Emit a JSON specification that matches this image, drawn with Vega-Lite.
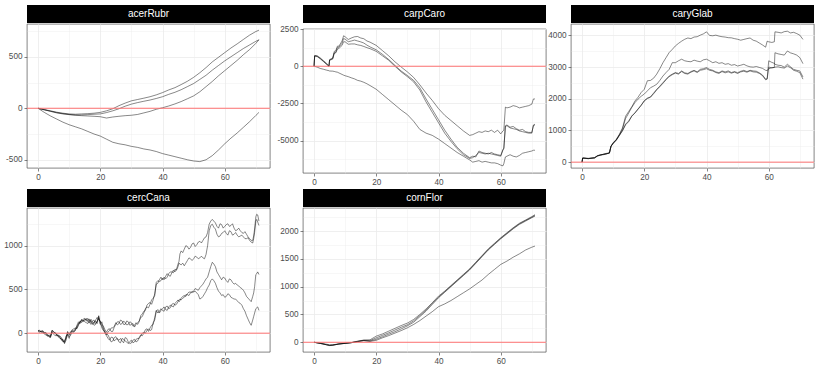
{
  "$schema": "https://vega.github.io/schema/vega-lite/v6.json",
  "padding": {"left": 3, "top": 5, "right": 2, "bottom": 2},
  "background": "white",
  "config": {
    "view": {"stroke": "#333333", "strokeWidth": 0.6},
    "axis": {"domain": false, "labelFont": "Liberation Sans", "labelFontSize": 8.2, "labelColor": "#4d4d4d", "tickColor": "#333333", "tickSize": 3, "tickWidth": 0.6, "labelPadding": 2, "gridColor": "#ebebeb", "labelOverlap": false, "tickCount": 50, "minExtent": 0}
  },
  "datasets": {
    "acerRubr": [
      {"x":0,"a":0,"b":0,"c":0,"d":0},{"x":2,"a":-12,"b":-15,"c":-15,"d":-40},{"x":4,"a":-25,"b":-28,"c":-30,"d":-75},{"x":6,"a":-38,"b":-42,"c":-45,"d":-105},{"x":8,"a":-48,"b":-52,"c":-55,"d":-135},{"x":10,"a":-55,"b":-60,"c":-62,"d":-160},{"x":12,"a":-58,"b":-65,"c":-68,"d":-180},{"x":14,"a":-55,"b":-65,"c":-72,"d":-200},{"x":16,"a":-52,"b":-62,"c":-75,"d":-225},{"x":18,"a":-48,"b":-58,"c":-78,"d":-250},{"x":20,"a":-40,"b":-55,"c":-82,"d":-270},{"x":22,"a":-25,"b":-42,"c":-95,"d":-300},{"x":24,"a":-5,"b":-25,"c":-85,"d":-330},{"x":26,"a":25,"b":-5,"c":-78,"d":-345},{"x":28,"a":50,"b":20,"c":-72,"d":-355},{"x":30,"a":72,"b":40,"c":-68,"d":-370},{"x":32,"a":85,"b":55,"c":-60,"d":-380},{"x":34,"a":98,"b":68,"c":-45,"d":-395},{"x":36,"a":112,"b":80,"c":-30,"d":-405},{"x":38,"a":130,"b":95,"c":-10,"d":-420},{"x":40,"a":152,"b":112,"c":5,"d":-440},{"x":42,"a":178,"b":135,"c":22,"d":-455},{"x":44,"a":200,"b":155,"c":42,"d":-470},{"x":46,"a":230,"b":180,"c":65,"d":-485},{"x":48,"a":262,"b":210,"c":92,"d":-500},{"x":50,"a":300,"b":240,"c":120,"d":-512},{"x":52,"a":345,"b":280,"c":160,"d":-518},{"x":54,"a":395,"b":320,"c":210,"d":-500},{"x":56,"a":450,"b":370,"c":260,"d":-460},{"x":58,"a":495,"b":415,"c":315,"d":-405},{"x":60,"a":540,"b":460,"c":365,"d":-345},{"x":62,"a":585,"b":500,"c":415,"d":-290},{"x":64,"a":625,"b":540,"c":465,"d":-240},{"x":66,"a":668,"b":580,"c":520,"d":-185},{"x":68,"a":710,"b":615,"c":570,"d":-130},{"x":70,"a":745,"b":650,"c":630,"d":-70},{"x":71,"a":758,"b":665,"c":665,"d":-40}
    ],
    "carpCaro": [
      {"x":0,"a":0,"b":0,"c":0,"d":0},{"x":0.2,"a":720,"b":700,"c":690,"d":-10},{"x":1,"a":700,"b":680,"c":650,"d":-60},{"x":2,"a":560,"b":520,"c":500,"d":-150},{"x":3,"a":380,"b":340,"c":320,"d":-200},{"x":4,"a":200,"b":150,"c":130,"d":-260},{"x":4.8,"a":30,"b":0,"c":-10,"d":-300},{"x":5,"a":450,"b":420,"c":400,"d":-320},{"x":6,"a":550,"b":520,"c":480,"d":-330},{"x":6.5,"a":1000,"b":900,"c":880,"d":-350},{"x":7,"a":1050,"b":950,"c":900,"d":-380},{"x":7.5,"a":1350,"b":1250,"c":1150,"d":-400},{"x":8,"a":1350,"b":1280,"c":1200,"d":-450},{"x":9,"a":1700,"b":1550,"c":1400,"d":-550},{"x":9.5,"a":2050,"b":1860,"c":1650,"d":-600},{"x":10,"a":1980,"b":1820,"c":1640,"d":-640},{"x":11,"a":1800,"b":1650,"c":1480,"d":-700},{"x":12,"a":1900,"b":1700,"c":1500,"d":-780},{"x":13,"a":1980,"b":1760,"c":1500,"d":-850},{"x":14,"a":2000,"b":1700,"c":1440,"d":-950},{"x":15,"a":1900,"b":1640,"c":1400,"d":-1000},{"x":16,"a":1850,"b":1560,"c":1330,"d":-1080},{"x":17,"a":1700,"b":1420,"c":1250,"d":-1180},{"x":18,"a":1620,"b":1300,"c":1180,"d":-1300},{"x":20,"a":1400,"b":1100,"c":1000,"d":-1550},{"x":22,"a":1050,"b":800,"c":700,"d":-1900},{"x":24,"a":700,"b":450,"c":400,"d":-2250},{"x":26,"a":300,"b":60,"c":0,"d":-2600},{"x":28,"a":-50,"b":-320,"c":-380,"d":-2950},{"x":30,"a":-380,"b":-620,"c":-700,"d":-3250},{"x":32,"a":-750,"b":-950,"c":-1050,"d":-3700},{"x":34,"a":-1250,"b":-1450,"c":-1600,"d":-4250},{"x":36,"a":-1800,"b":-2200,"c":-2400,"d":-4500},{"x":38,"a":-2300,"b":-2900,"c":-3100,"d":-4650},{"x":40,"a":-2850,"b":-3600,"c":-3800,"d":-4900},{"x":42,"a":-3300,"b":-4300,"c":-4500,"d":-5200},{"x":44,"a":-3650,"b":-4900,"c":-5050,"d":-5500},{"x":46,"a":-4000,"b":-5450,"c":-5550,"d":-5800},{"x":48,"a":-4350,"b":-5850,"c":-5950,"d":-6050},{"x":50,"a":-4650,"b":-6150,"c":-6200,"d":-6300},{"x":51,"a":-4600,"b":-6050,"c":-6150,"d":-6450},{"x":52,"a":-4500,"b":-6100,"c":-6000,"d":-6400},{"x":53,"a":-4400,"b":-5700,"c":-5800,"d":-6350},{"x":54,"a":-4450,"b":-5800,"c":-5850,"d":-6450},{"x":55,"a":-4350,"b":-5850,"c":-5900,"d":-6400},{"x":56,"a":-4400,"b":-5900,"c":-5850,"d":-6450},{"x":57,"a":-4300,"b":-5800,"c":-5900,"d":-6500},{"x":58,"a":-4450,"b":-5900,"c":-5950,"d":-6500},{"x":59,"a":-4300,"b":-5950,"c":-6000,"d":-6550},{"x":60,"a":-4550,"b":-6000,"c":-6050,"d":-6650},{"x":60.7,"a":-4350,"b":-5600,"c":-5650,"d":-6700},{"x":61,"a":-4300,"b":-5500,"c":-5550,"d":-6550},{"x":61.5,"a":-2750,"b":-4000,"c":-4050,"d":-6100},{"x":62,"a":-2800,"b":-3950,"c":-4000,"d":-6050},{"x":63,"a":-2750,"b":-4100,"c":-4150,"d":-5950},{"x":64,"a":-2650,"b":-4050,"c":-4200,"d":-6050},{"x":65,"a":-2700,"b":-4200,"c":-4250,"d":-6100},{"x":66,"a":-2800,"b":-4300,"c":-4350,"d":-6000},{"x":67,"a":-2750,"b":-4250,"c":-4400,"d":-5850},{"x":68,"a":-2700,"b":-4400,"c":-4450,"d":-5800},{"x":69,"a":-2650,"b":-4450,"c":-4500,"d":-5750},{"x":70,"a":-2550,"b":-4450,"c":-4500,"d":-5700},{"x":70.5,"a":-2200,"b":-4000,"c":-3950,"d":-5650},{"x":71,"a":-2200,"b":-3950,"c":-3900,"d":-5650}
    ],
    "caryGlab": [
      {"x":0,"a":0,"b":0,"c":0,"d":0},{"x":0.2,"a":130,"b":130,"c":130,"d":130},{"x":2,"a":110,"b":115,"c":120,"d":110},{"x":4,"a":140,"b":130,"c":140,"d":135},{"x":5,"a":200,"b":190,"c":210,"d":200},{"x":6,"a":220,"b":230,"c":220,"d":240},{"x":7,"a":240,"b":250,"c":260,"d":240},{"x":8,"a":270,"b":260,"c":280,"d":270},{"x":8.8,"a":290,"b":300,"c":280,"d":290},{"x":9.3,"a":500,"b":480,"c":520,"d":500},{"x":10,"a":600,"b":620,"c":580,"d":600},{"x":11,"a":720,"b":700,"c":690,"d":700},{"x":12,"a":880,"b":860,"c":850,"d":840},{"x":13,"a":1080,"b":1050,"c":1000,"d":990},{"x":14,"a":1450,"b":1380,"c":1200,"d":1180},{"x":15,"a":1600,"b":1550,"c":1300,"d":1280},{"x":16,"a":1750,"b":1730,"c":1460,"d":1450},{"x":17,"a":1930,"b":1880,"c":1560,"d":1550},{"x":18,"a":2050,"b":1990,"c":1680,"d":1670},{"x":19,"a":2200,"b":2080,"c":1800,"d":1790},{"x":20,"a":2300,"b":2150,"c":1940,"d":1930},{"x":21,"a":2570,"b":2250,"c":2020,"d":2010},{"x":22,"a":2580,"b":2350,"c":2060,"d":2050},{"x":23,"a":2650,"b":2400,"c":2180,"d":2160},{"x":24,"a":2780,"b":2460,"c":2300,"d":2280},{"x":25,"a":2950,"b":2580,"c":2400,"d":2380},{"x":26,"a":3140,"b":2720,"c":2510,"d":2490},{"x":27,"a":3300,"b":2830,"c":2620,"d":2600},{"x":28,"a":3460,"b":2930,"c":2720,"d":2700},{"x":29,"a":3560,"b":3140,"c":2780,"d":2760},{"x":30,"a":3670,"b":3140,"c":2830,"d":2810},{"x":31,"a":3750,"b":3200,"c":2800,"d":2780},{"x":32,"a":3820,"b":3250,"c":2880,"d":2860},{"x":33,"a":3880,"b":3200,"c":2820,"d":2800},{"x":34,"a":3920,"b":3180,"c":2800,"d":2780},{"x":35,"a":3900,"b":3170,"c":2860,"d":2840},{"x":36,"a":3950,"b":3220,"c":2900,"d":2880},{"x":37,"a":3960,"b":3190,"c":2850,"d":2830},{"x":38,"a":4010,"b":3170,"c":2930,"d":2900},{"x":39,"a":4050,"b":3230,"c":2950,"d":2920},{"x":40,"a":4115,"b":3250,"c":2985,"d":2950},{"x":41,"a":4000,"b":3200,"c":2930,"d":2900},{"x":42,"a":3990,"b":3140,"c":2900,"d":2880},{"x":43,"a":4010,"b":3170,"c":2850,"d":2830},{"x":44,"a":3980,"b":3120,"c":2825,"d":2800},{"x":45,"a":3960,"b":3140,"c":2880,"d":2860},{"x":46,"a":3950,"b":3090,"c":2850,"d":2820},{"x":47,"a":3930,"b":3110,"c":2880,"d":2850},{"x":48,"a":3925,"b":3060,"c":2830,"d":2810},{"x":49,"a":3900,"b":3080,"c":2860,"d":2840},{"x":50,"a":3880,"b":3035,"c":2825,"d":2800},{"x":51,"a":3850,"b":3060,"c":2870,"d":2850},{"x":52,"a":3875,"b":3090,"c":2900,"d":2870},{"x":53,"a":3900,"b":3040,"c":2860,"d":2840},{"x":54,"a":3920,"b":3010,"c":2900,"d":2880},{"x":55,"a":3850,"b":3000,"c":2880,"d":2850},{"x":56,"a":3820,"b":3020,"c":2870,"d":2840},{"x":57,"a":3760,"b":2990,"c":2820,"d":2800},{"x":58,"a":3700,"b":2960,"c":2750,"d":2730},{"x":59,"a":3630,"b":2900,"c":2620,"d":2600},{"x":59.5,"a":3820,"b":2890,"c":2640,"d":2620},{"x":60,"a":3800,"b":2950,"c":3200,"d":3000},{"x":61,"a":3780,"b":2980,"c":3150,"d":2980},{"x":61.8,"a":3800,"b":2990,"c":3120,"d":2990},{"x":62,"a":4115,"b":3455,"c":3090,"d":3000},{"x":63,"a":4100,"b":3420,"c":3060,"d":3010},{"x":64,"a":4080,"b":3400,"c":3050,"d":2985},{"x":65,"a":4120,"b":3380,"c":3000,"d":2970},{"x":66,"a":4135,"b":3510,"c":3090,"d":3035},{"x":67,"a":4080,"b":3450,"c":3010,"d":2980},{"x":68,"a":4100,"b":3420,"c":2930,"d":2900},{"x":69,"a":4060,"b":3380,"c":2900,"d":2870},{"x":70,"a":4010,"b":3300,"c":2880,"d":2825},{"x":71,"a":3875,"b":3110,"c":2690,"d":2620}
    ],
    "cercCana": [
      {"x":0,"a":30,"b":25,"c":20,"d":30},{"x":1,"a":20,"b":15,"c":25,"d":10},{"x":2,"a":5,"b":0,"c":-10,"d":10},{"x":3,"a":-25,"b":-20,"c":-35,"d":-15},{"x":4,"a":-40,"b":-45,"c":-30,"d":-50},{"x":4.5,"a":35,"b":20,"c":10,"d":30},{"x":5,"a":15,"b":0,"c":-10,"d":20},{"x":6,"a":-10,"b":-30,"c":-20,"d":-15},{"x":7,"a":-30,"b":-50,"c":-40,"d":-60},{"x":8,"a":-80,"b":-90,"c":-70,"d":-100},{"x":8.5,"a":-100,"b":-110,"c":-120,"d":-90},{"x":9,"a":-60,"b":-30,"c":-80,"d":-50},{"x":9.5,"a":10,"b":-20,"c":-10,"d":20},{"x":10,"a":-20,"b":-60,"c":-40,"d":-10},{"x":11,"a":20,"b":40,"c":10,"d":30},{"x":12,"a":40,"b":60,"c":50,"d":30},{"x":13,"a":110,"b":90,"c":100,"d":130},{"x":14,"a":140,"b":150,"c":120,"d":160},{"x":15,"a":170,"b":150,"c":130,"d":160},{"x":16,"a":150,"b":130,"c":110,"d":170},{"x":17,"a":120,"b":160,"c":140,"d":100},{"x":18,"a":150,"b":110,"c":130,"d":90},{"x":19,"a":130,"b":180,"c":110,"d":140},{"x":19.5,"a":200,"b":150,"c":190,"d":170},{"x":20,"a":110,"b":140,"c":100,"d":130},{"x":21,"a":60,"b":80,"c":40,"d":30},{"x":22,"a":-20,"b":10,"c":-30,"d":-10},{"x":23,"a":30,"b":50,"c":-80,"d":-60},{"x":24,"a":60,"b":20,"c":-50,"d":-90},{"x":25,"a":120,"b":100,"c":-70,"d":-40},{"x":26,"a":110,"b":130,"c":-100,"d":-80},{"x":27,"a":140,"b":110,"c":-60,"d":-90},{"x":28,"a":100,"b":120,"c":-90,"d":-50},{"x":29,"a":130,"b":100,"c":-120,"d":-100},{"x":30,"a":100,"b":120,"c":-80,"d":-110},{"x":31,"a":70,"b":90,"c":-100,"d":-70},{"x":32,"a":120,"b":100,"c":-60,"d":-90},{"x":33,"a":180,"b":200,"c":-30,"d":-20},{"x":34,"a":230,"b":250,"c":10,"d":0},{"x":35,"a":300,"b":320,"c":30,"d":50},{"x":36,"a":330,"b":350,"c":30,"d":60},{"x":37,"a":400,"b":380,"c":120,"d":100},{"x":38,"a":580,"b":560,"c":250,"d":260},{"x":39,"a":590,"b":610,"c":230,"d":250},{"x":40,"a":630,"b":610,"c":280,"d":260},{"x":41,"a":650,"b":620,"c":270,"d":300},{"x":42,"a":660,"b":680,"c":300,"d":280},{"x":43,"a":690,"b":700,"c":310,"d":330},{"x":44,"a":700,"b":730,"c":340,"d":320},{"x":45,"a":790,"b":760,"c":380,"d":360},{"x":45.6,"a":905,"b":790,"c":370,"d":390},{"x":46,"a":940,"b":780,"c":400,"d":380},{"x":47,"a":960,"b":770,"c":430,"d":410},{"x":48,"a":990,"b":830,"c":450,"d":440},{"x":49,"a":980,"b":850,"c":470,"d":460},{"x":50,"a":1030,"b":850,"c":480,"d":470},{"x":51,"a":1010,"b":870,"c":500,"d":460},{"x":52,"a":1050,"b":860,"c":520,"d":390},{"x":53,"a":1060,"b":860,"c":560,"d":420},{"x":54,"a":1100,"b":900,"c":620,"d":480},{"x":55,"a":1245,"b":1170,"c":700,"d":550},{"x":56,"a":1300,"b":1245,"c":810,"d":620},{"x":57,"a":1260,"b":1190,"c":760,"d":570},{"x":58,"a":1200,"b":1100,"c":670,"d":480},{"x":59,"a":1240,"b":1140,"c":610,"d":430},{"x":60,"a":1220,"b":1170,"c":630,"d":410},{"x":61,"a":1250,"b":1120,"c":580,"d":450},{"x":62,"a":1230,"b":1160,"c":610,"d":410},{"x":63,"a":1200,"b":1130,"c":560,"d":390},{"x":64,"a":1180,"b":1120,"c":550,"d":370},{"x":65,"a":1170,"b":1110,"c":520,"d":340},{"x":66,"a":1140,"b":1100,"c":490,"d":280},{"x":67,"a":1130,"b":1080,"c":420,"d":200},{"x":68,"a":1080,"b":1060,"c":380,"d":120},{"x":68.5,"a":1060,"b":1040,"c":360,"d":90},{"x":69,"a":1060,"b":1030,"c":420,"d":150},{"x":69.6,"a":1190,"b":1150,"c":530,"d":230},{"x":70,"a":1330,"b":1280,"c":670,"d":280},{"x":70.6,"a":1350,"b":1270,"c":700,"d":300},{"x":71,"a":1280,"b":1230,"c":670,"d":260},
      {"x":0.5,"a":20,"b":35,"c":10,"d":25},{"x":1.5,"a":30,"b":10,"c":15,"d":20},{"x":2.5,"a":-10,"b":10,"c":-20,"d":0},{"x":3.5,"a":-30,"b":-40,"c":-20,"d":-40},{"x":5.5,"a":0,"b":10,"c":-30,"d":0},{"x":6.5,"a":-30,"b":-20,"c":-40,"d":-40},{"x":7.5,"a":-50,"b":-70,"c":-80,"d":-60},{"x":10.5,"a":10,"b":0,"c":-20,"d":20},{"x":11.5,"a":10,"b":50,"c":30,"d":20},{"x":12.5,"a":80,"b":50,"c":60,"d":90},{"x":13.5,"a":120,"b":130,"c":140,"d":110},{"x":14.5,"a":160,"b":130,"c":150,"d":140},{"x":15.5,"a":140,"b":170,"c":120,"d":150},{"x":16.5,"a":160,"b":120,"c":150,"d":130},{"x":17.5,"a":140,"b":130,"c":100,"d":120},{"x":18.5,"a":110,"b":150,"c":140,"d":100},{"x":20.5,"a":130,"b":100,"c":90,"d":60},{"x":21.5,"a":10,"b":40,"c":0,"d":20},
      {"x":22.5,"a":15,"b":45,"c":-60,"d":-20},{"x":23.5,"a":60,"b":20,"c":-45,"d":-100},{"x":24.5,"a":80,"b":70,"c":-90,"d":-50},{"x":25.5,"a":95,"b":130,"c":-60,"d":-70},{"x":26.5,"a":150,"b":100,"c":-110,"d":-60},{"x":27.5,"a":100,"b":140,"c":-70,"d":-110},{"x":28.5,"a":140,"b":95,"c":-100,"d":-60},{"x":29.5,"a":90,"b":130,"c":-95,"d":-120},{"x":30.5,"a":110,"b":80,"c":-110,"d":-80},{"x":31.5,"a":100,"b":120,"c":-70,"d":-100},{"x":32.5,"a":140,"b":130,"c":-60,"d":-50},{"x":33.5,"a":190,"b":220,"c":0,"d":-30},{"x":34.5,"a":280,"b":260,"c":0,"d":40},{"x":35.5,"a":290,"b":340,"c":50,"d":20},{"x":36.5,"a":380,"b":330,"c":40,"d":90},{"x":37.5,"a":430,"b":450,"c":150,"d":180},{"x":38.5,"a":600,"b":570,"c":270,"d":230},{"x":39.5,"a":600,"b":640,"c":260,"d":280},{"x":40.5,"a":610,"b":640,"c":300,"d":250},{"x":41.5,"a":680,"b":640,"c":260,"d":310},{"x":42.5,"a":650,"b":700,"c":320,"d":290},{"x":43.5,"a":720,"b":690,"c":300,"d":340},{"x":44.5,"a":730,"b":720,"c":360,"d":330},{"x":45.3,"a":820,"b":800,"c":360,"d":380},{"x":46.5,"a":920,"b":800,"c":420,"d":400},{"x":47.5,"a":1000,"b":800,"c":420,"d":440},{"x":48.5,"a":960,"b":860,"c":470,"d":430},{"x":49.5,"a":1020,"b":830,"c":460,"d":480},{"x":50.5,"a":990,"b":880,"c":510,"d":480},{"x":51.5,"a":1040,"b":850,"c":490,"d":440},{"x":52.5,"a":1030,"b":880,"c":540,"d":400},{"x":53.5,"a":1090,"b":850,"c":590,"d":450},{"x":54.5,"a":1150,"b":1000,"c":640,"d":520},{"x":55.5,"a":1280,"b":1230,"c":760,"d":600},{"x":56.5,"a":1280,"b":1210,"c":790,"d":600},{"x":57.5,"a":1220,"b":1130,"c":700,"d":520},{"x":58.5,"a":1250,"b":1110,"c":640,"d":460},{"x":59.5,"a":1200,"b":1150,"c":640,"d":440},{"x":60.5,"a":1240,"b":1140,"c":600,"d":420},{"x":61.5,"a":1220,"b":1170,"c":620,"d":440},{"x":62.5,"a":1250,"b":1120,"c":580,"d":400},{"x":63.5,"a":1170,"b":1150,"c":570,"d":390},{"x":64.5,"a":1200,"b":1100,"c":540,"d":350},{"x":65.5,"a":1150,"b":1120,"c":510,"d":320},{"x":66.5,"a":1160,"b":1080,"c":460,"d":250},{"x":67.5,"a":1100,"b":1090,"c":400,"d":160},{"x":69.3,"a":1110,"b":1080,"c":460,"d":190},{"x":70.3,"a":1360,"b":1300,"c":680,"d":290}
    ],
    "cornFlor": [
      {"x":0,"a":0,"b":0,"c":0,"d":0},{"x":2,"a":-20,"b":-20,"c":-20,"d":-15},{"x":4,"a":-45,"b":-45,"c":-45,"d":-35},{"x":5,"a":-60,"b":-58,"c":-55,"d":-45},{"x":6,"a":-55,"b":-52,"c":-50,"d":-45},{"x":8,"a":-30,"b":-32,"c":-30,"d":-30},{"x":10,"a":-20,"b":-20,"c":-18,"d":-18},{"x":12,"a":-5,"b":-8,"c":-8,"d":-5},{"x":14,"a":20,"b":15,"c":10,"d":15},{"x":16,"a":40,"b":35,"c":30,"d":30},{"x":18,"a":45,"b":30,"c":20,"d":15},{"x":20,"a":110,"b":80,"c":55,"d":35},{"x":22,"a":150,"b":125,"c":100,"d":80},{"x":24,"a":200,"b":170,"c":145,"d":120},{"x":26,"a":250,"b":220,"c":190,"d":165},{"x":28,"a":300,"b":270,"c":240,"d":210},{"x":30,"a":345,"b":315,"c":295,"d":260},{"x":32,"a":410,"b":385,"c":360,"d":320},{"x":34,"a":500,"b":480,"c":460,"d":390},{"x":36,"a":600,"b":580,"c":560,"d":470},{"x":38,"a":710,"b":700,"c":680,"d":550},{"x":40,"a":830,"b":810,"c":800,"d":640},{"x":42,"a":920,"b":910,"c":900,"d":690},{"x":44,"a":1020,"b":1010,"c":1000,"d":750},{"x":46,"a":1120,"b":1110,"c":1100,"d":820},{"x":48,"a":1220,"b":1210,"c":1200,"d":890},{"x":50,"a":1320,"b":1310,"c":1300,"d":960},{"x":52,"a":1440,"b":1430,"c":1420,"d":1040},{"x":54,"a":1560,"b":1550,"c":1540,"d":1120},{"x":56,"a":1680,"b":1670,"c":1660,"d":1220},{"x":58,"a":1780,"b":1770,"c":1760,"d":1310},{"x":60,"a":1880,"b":1870,"c":1860,"d":1400},{"x":62,"a":1970,"b":1960,"c":1950,"d":1460},{"x":64,"a":2060,"b":2050,"c":2040,"d":1530},{"x":66,"a":2140,"b":2130,"c":2120,"d":1590},{"x":68,"a":2200,"b":2190,"c":2180,"d":1660},{"x":70,"a":2260,"b":2250,"c":2240,"d":1710},{"x":71,"a":2295,"b":2280,"c":2270,"d":1730}
    ]
  },
  "columns": 3,
  "align": "each",
  "spacing": {"column": 0, "row": 3},
  "concat": [
    {"spacing": 0, "vconcat": [
      {"width": 243, "height": 18, "view": {"fill": "black", "stroke": null}, "data": {"values": [{"t": "acerRubr"}]}, "mark": {"type": "text", "color": "white", "font": "Liberation Sans", "fontSize": 10}, "encoding": {"text": {"field": "t"}}},
      {"width": 243, "height": 144, "layer": [
        {"data": {"name": "acerRubr"}, "transform": [{"fold": ["a", "b", "c", "d"], "as": ["s", "v"]}], "mark": {"type": "line", "color": "black", "strokeWidth": 0.65, "opacity": 0.72},
         "encoding": {
           "x": {"field": "x", "type": "quantitative", "scale": {"domain": [-3.55, 74.55], "nice": false, "zero": false}, "axis": {"title": null, "values": [0, 10, 20, 30, 40, 50, 60, 70], "labelExpr": "datum.value % 20 === 0 ? '' + datum.value : ''", "tickOpacity": {"condition": {"test": "datum.value % 20 === 0", "value": 1}, "value": 0}, "gridWidth": {"condition": {"test": "datum.value % 20 === 0", "value": 0.8}, "value": 0.4}}},
           "y": {"field": "v", "type": "quantitative", "scale": {"domain": [-580, 818], "nice": false, "zero": false}, "axis": {"title": null, "values": [-500, -250, 0, 250, 500, 750], "labelExpr": "datum.value % 500 === 0 ? '' + datum.value : ''", "tickOpacity": {"condition": {"test": "datum.value % 500 === 0", "value": 1}, "value": 0}, "gridWidth": {"condition": {"test": "datum.value % 500 === 0", "value": 0.8}, "value": 0.4}}},
           "detail": {"field": "s"}}},
        {"data": {"values": [{}]}, "mark": {"type": "rule", "color": "#ff7373", "strokeWidth": 1}, "encoding": {"y": {"datum": 0}}}
      ]}
    ]},
    {"spacing": 0, "vconcat": [
      {"width": 243, "height": 18, "view": {"fill": "black", "stroke": null}, "data": {"values": [{"t": "carpCaro"}]}, "mark": {"type": "text", "color": "white", "font": "Liberation Sans", "fontSize": 10}, "encoding": {"text": {"field": "t"}}},
      {"width": 243, "height": 144, "layer": [
        {"data": {"name": "carpCaro"}, "transform": [{"fold": ["a", "b", "c", "d"], "as": ["s", "v"]}], "mark": {"type": "line", "color": "black", "strokeWidth": 0.65, "opacity": 0.72},
         "encoding": {
           "x": {"field": "x", "type": "quantitative", "scale": {"domain": [-3.55, 74.55], "nice": false, "zero": false}, "axis": {"title": null, "values": [0, 10, 20, 30, 40, 50, 60, 70], "labelExpr": "datum.value % 20 === 0 ? '' + datum.value : ''", "tickOpacity": {"condition": {"test": "datum.value % 20 === 0", "value": 1}, "value": 0}, "gridWidth": {"condition": {"test": "datum.value % 20 === 0", "value": 0.8}, "value": 0.4}}},
           "y": {"field": "v", "type": "quantitative", "scale": {"domain": [-7180, 2505], "nice": false, "zero": false}, "axis": {"title": null, "minExtent": 31, "values": [-6250, -5000, -3750, -2500, -1250, 0, 1250, 2500], "labelExpr": "datum.value % 2500 === 0 ? '' + datum.value : ''", "tickOpacity": {"condition": {"test": "datum.value % 2500 === 0", "value": 1}, "value": 0}, "gridWidth": {"condition": {"test": "datum.value % 2500 === 0", "value": 0.8}, "value": 0.4}}},
           "detail": {"field": "s"}}},
        {"data": {"values": [{}]}, "mark": {"type": "rule", "color": "#ff7373", "strokeWidth": 1}, "encoding": {"y": {"datum": 0}}}
      ]}
    ]},
    {"spacing": 0, "vconcat": [
      {"width": 243, "height": 18, "view": {"fill": "black", "stroke": null}, "data": {"values": [{"t": "caryGlab"}]}, "mark": {"type": "text", "color": "white", "font": "Liberation Sans", "fontSize": 10}, "encoding": {"text": {"field": "t"}}},
      {"width": 243, "height": 144, "layer": [
        {"data": {"name": "caryGlab"}, "transform": [{"fold": ["a", "b", "c", "d"], "as": ["s", "v"]}], "mark": {"type": "line", "color": "black", "strokeWidth": 0.65, "opacity": 0.72},
         "encoding": {
           "x": {"field": "x", "type": "quantitative", "scale": {"domain": [-3.55, 74.55], "nice": false, "zero": false}, "axis": {"title": null, "values": [0, 10, 20, 30, 40, 50, 60, 70], "labelExpr": "datum.value % 20 === 0 ? '' + datum.value : ''", "tickOpacity": {"condition": {"test": "datum.value % 20 === 0", "value": 1}, "value": 0}, "gridWidth": {"condition": {"test": "datum.value % 20 === 0", "value": 0.8}, "value": 0.4}}},
           "y": {"field": "v", "type": "quantitative", "scale": {"domain": [-185, 4362], "nice": false, "zero": false}, "axis": {"title": null, "values": [0, 500, 1000, 1500, 2000, 2500, 3000, 3500, 4000], "labelExpr": "datum.value % 1000 === 0 ? '' + datum.value : ''", "tickOpacity": {"condition": {"test": "datum.value % 1000 === 0", "value": 1}, "value": 0}, "gridWidth": {"condition": {"test": "datum.value % 1000 === 0", "value": 0.8}, "value": 0.4}}},
           "detail": {"field": "s"}}},
        {"data": {"values": [{}]}, "mark": {"type": "rule", "color": "#ff7373", "strokeWidth": 1}, "encoding": {"y": {"datum": 0}}}
      ]}
    ]},
    {"spacing": 0, "vconcat": [
      {"width": 243, "height": 18, "view": {"fill": "black", "stroke": null}, "data": {"values": [{"t": "cercCana"}]}, "mark": {"type": "text", "color": "white", "font": "Liberation Sans", "fontSize": 10}, "encoding": {"text": {"field": "t"}}},
      {"width": 243, "height": 144, "layer": [
        {"data": {"name": "cercCana"}, "transform": [{"fold": ["a", "b", "c", "d"], "as": ["s", "v"]}], "mark": {"type": "line", "color": "black", "strokeWidth": 0.65, "opacity": 0.72},
         "encoding": {
           "x": {"field": "x", "type": "quantitative", "scale": {"domain": [-3.55, 74.55], "nice": false, "zero": false}, "axis": {"title": null, "values": [0, 10, 20, 30, 40, 50, 60, 70], "labelExpr": "datum.value % 20 === 0 ? '' + datum.value : ''", "tickOpacity": {"condition": {"test": "datum.value % 20 === 0", "value": 1}, "value": 0}, "gridWidth": {"condition": {"test": "datum.value % 20 === 0", "value": 0.8}, "value": 0.4}}},
           "y": {"field": "v", "type": "quantitative", "scale": {"domain": [-215, 1430], "nice": false, "zero": false}, "axis": {"title": null, "values": [0, 250, 500, 750, 1000, 1250], "labelExpr": "datum.value % 500 === 0 ? '' + datum.value : ''", "tickOpacity": {"condition": {"test": "datum.value % 500 === 0", "value": 1}, "value": 0}, "gridWidth": {"condition": {"test": "datum.value % 500 === 0", "value": 0.8}, "value": 0.4}}},
           "detail": {"field": "s"}}},
        {"data": {"values": [{}]}, "mark": {"type": "rule", "color": "#ff7373", "strokeWidth": 1}, "encoding": {"y": {"datum": 0}}}
      ]}
    ]},
    {"spacing": 0, "vconcat": [
      {"width": 243, "height": 18, "view": {"fill": "black", "stroke": null}, "data": {"values": [{"t": "cornFlor"}]}, "mark": {"type": "text", "color": "white", "font": "Liberation Sans", "fontSize": 10}, "encoding": {"text": {"field": "t"}}},
      {"width": 243, "height": 144, "layer": [
        {"data": {"name": "cornFlor"}, "transform": [{"fold": ["a", "b", "c", "d"], "as": ["s", "v"]}], "mark": {"type": "line", "color": "black", "strokeWidth": 0.65, "opacity": 0.72},
         "encoding": {
           "x": {"field": "x", "type": "quantitative", "scale": {"domain": [-3.55, 74.55], "nice": false, "zero": false}, "axis": {"title": null, "values": [0, 10, 20, 30, 40, 50, 60, 70], "labelExpr": "datum.value % 20 === 0 ? '' + datum.value : ''", "tickOpacity": {"condition": {"test": "datum.value % 20 === 0", "value": 1}, "value": 0}, "gridWidth": {"condition": {"test": "datum.value % 20 === 0", "value": 0.8}, "value": 0.4}}},
           "y": {"field": "v", "type": "quantitative", "scale": {"domain": [-175, 2415], "nice": false, "zero": false}, "axis": {"title": null, "minExtent": 31, "values": [0, 250, 500, 750, 1000, 1250, 1500, 1750, 2000, 2250], "labelExpr": "datum.value % 500 === 0 ? '' + datum.value : ''", "tickOpacity": {"condition": {"test": "datum.value % 500 === 0", "value": 1}, "value": 0}, "gridWidth": {"condition": {"test": "datum.value % 500 === 0", "value": 0.8}, "value": 0.4}}},
           "detail": {"field": "s"}}},
        {"data": {"values": [{}]}, "mark": {"type": "rule", "color": "#ff7373", "strokeWidth": 1}, "encoding": {"y": {"datum": 0}}}
      ]}
    ]}
  ]
}
